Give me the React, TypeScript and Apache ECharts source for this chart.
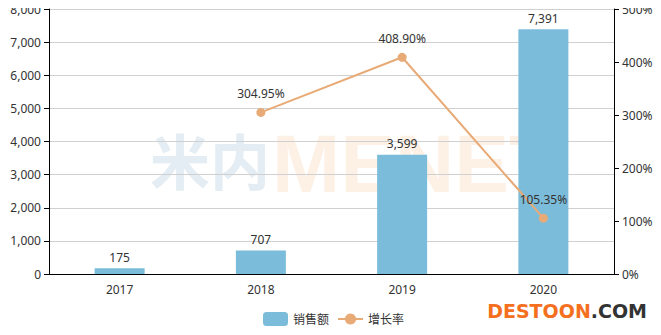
import React, { useEffect, useRef } from "react";
import * as echarts from "echarts";

const categories = ["2017", "2018", "2019", "2020"];
const salesValues = [175, 707, 3599, 7391];
const growthValues: (number | null)[] = [null, 304.95, 408.9, 105.35];
const seriesNames = ["销售额", "增长率"];

export default function App() {
  const ref = useRef<HTMLDivElement>(null);
  useEffect(() => {
    const chart = echarts.init(ref.current!, undefined, { renderer: "svg" });
    const font = "'Noto Sans', 'Noto Sans CJK SC', sans-serif";
    chart.setOption({
      animation: false,
      textStyle: { fontFamily: font },
      grid: { left: 49, right: 47, top: 9, bottom: 61 },
      graphic: [
        {
          type: "text",
          left: 150,
          top: 128,
          z: -10,
          silent: true,
          style: {
            text: "米内",
            fontSize: 60,
            fontWeight: "bold",
            fill: "#e3edf3",
            fontFamily: "'Noto Sans CJK SC', sans-serif",
          },
        },
        {
          type: "text",
          left: 272,
          top: 122,
          z: -10,
          silent: true,
          style: {
            text: "MENET",
            fontSize: 82,
            fontWeight: "bold",
            fill: "#fdf1e6",
            fontFamily: "'Liberation Sans', sans-serif",
          },
        },
        {
          type: "text",
          right: 14,
          top: 301,
          style: {
            text: "{a|DESTOON}{b|.COM}",
            rich: {
              a: { fontSize: 19, fontWeight: "bold", fill: "#f46f1e", fontFamily: "'DejaVu Sans', sans-serif" },
              b: { fontSize: 19, fontWeight: "bold", fill: "#333", fontFamily: "'DejaVu Sans', sans-serif" },
            },
          },
        },
      ],
      legend: {
        bottom: 4,
        left: 258,
        itemWidth: 25,
        itemHeight: 14,
        itemGap: 8,
        textStyle: { color: "#333", fontSize: 12 },
        data: [
          { name: seriesNames[0] },
          { name: seriesNames[1] },
        ],
      },
      xAxis: {
        type: "category",
        data: categories,
        axisLine: { lineStyle: { color: "#000" } },
        axisTick: { lineStyle: { color: "#000" } },
        axisLabel: { color: "#333", fontSize: 12, margin: 9 },
      },
      yAxis: [
        {
          type: "value",
          min: 0,
          max: 8000,
          interval: 1000,
          axisLine: { show: true, lineStyle: { color: "#000" } },
          axisTick: { show: true, lineStyle: { color: "#000" } },
          axisLabel: {
            color: "#333",
            fontSize: 12,
            formatter: (v: number) => v.toLocaleString("en-US"),
          },
          splitLine: { lineStyle: { color: "#d0d0d0" } },
        },
        {
          type: "value",
          min: 0,
          max: 500,
          interval: 100,
          axisLine: { show: true, lineStyle: { color: "#000" } },
          axisTick: { show: true, lineStyle: { color: "#000" } },
          axisLabel: { color: "#333", fontSize: 12, formatter: "{value}%" },
          splitLine: { show: false },
        },
      ],
      series: [
        {
          name: seriesNames[0],
          type: "bar",
          data: salesValues,
          barWidth: 50,
          itemStyle: { color: "#7bbcda" },
          label: {
            show: true,
            position: "top",
            color: "#333",
            fontSize: 12,
            formatter: (p: any) => Number(p.value).toLocaleString("en-US"),
          },
        },
        {
          name: seriesNames[1],
          type: "line",
          yAxisIndex: 1,
          data: growthValues,
          symbol: "circle",
          symbolSize: 9,
          lineStyle: { color: "#e8aa76", width: 2 },
          itemStyle: { color: "#e8aa76" },
          label: {
            show: true,
            position: "top",
            color: "#333",
            fontSize: 12,
            distance: 8,
            formatter: (p: any) => Number(p.value).toFixed(2) + "%",
          },
        },
      ],
    });
    return () => chart.dispose();
  }, []);
  return <div ref={ref} style={{ width: 661, height: 335, margin: -8 }} />;
}
